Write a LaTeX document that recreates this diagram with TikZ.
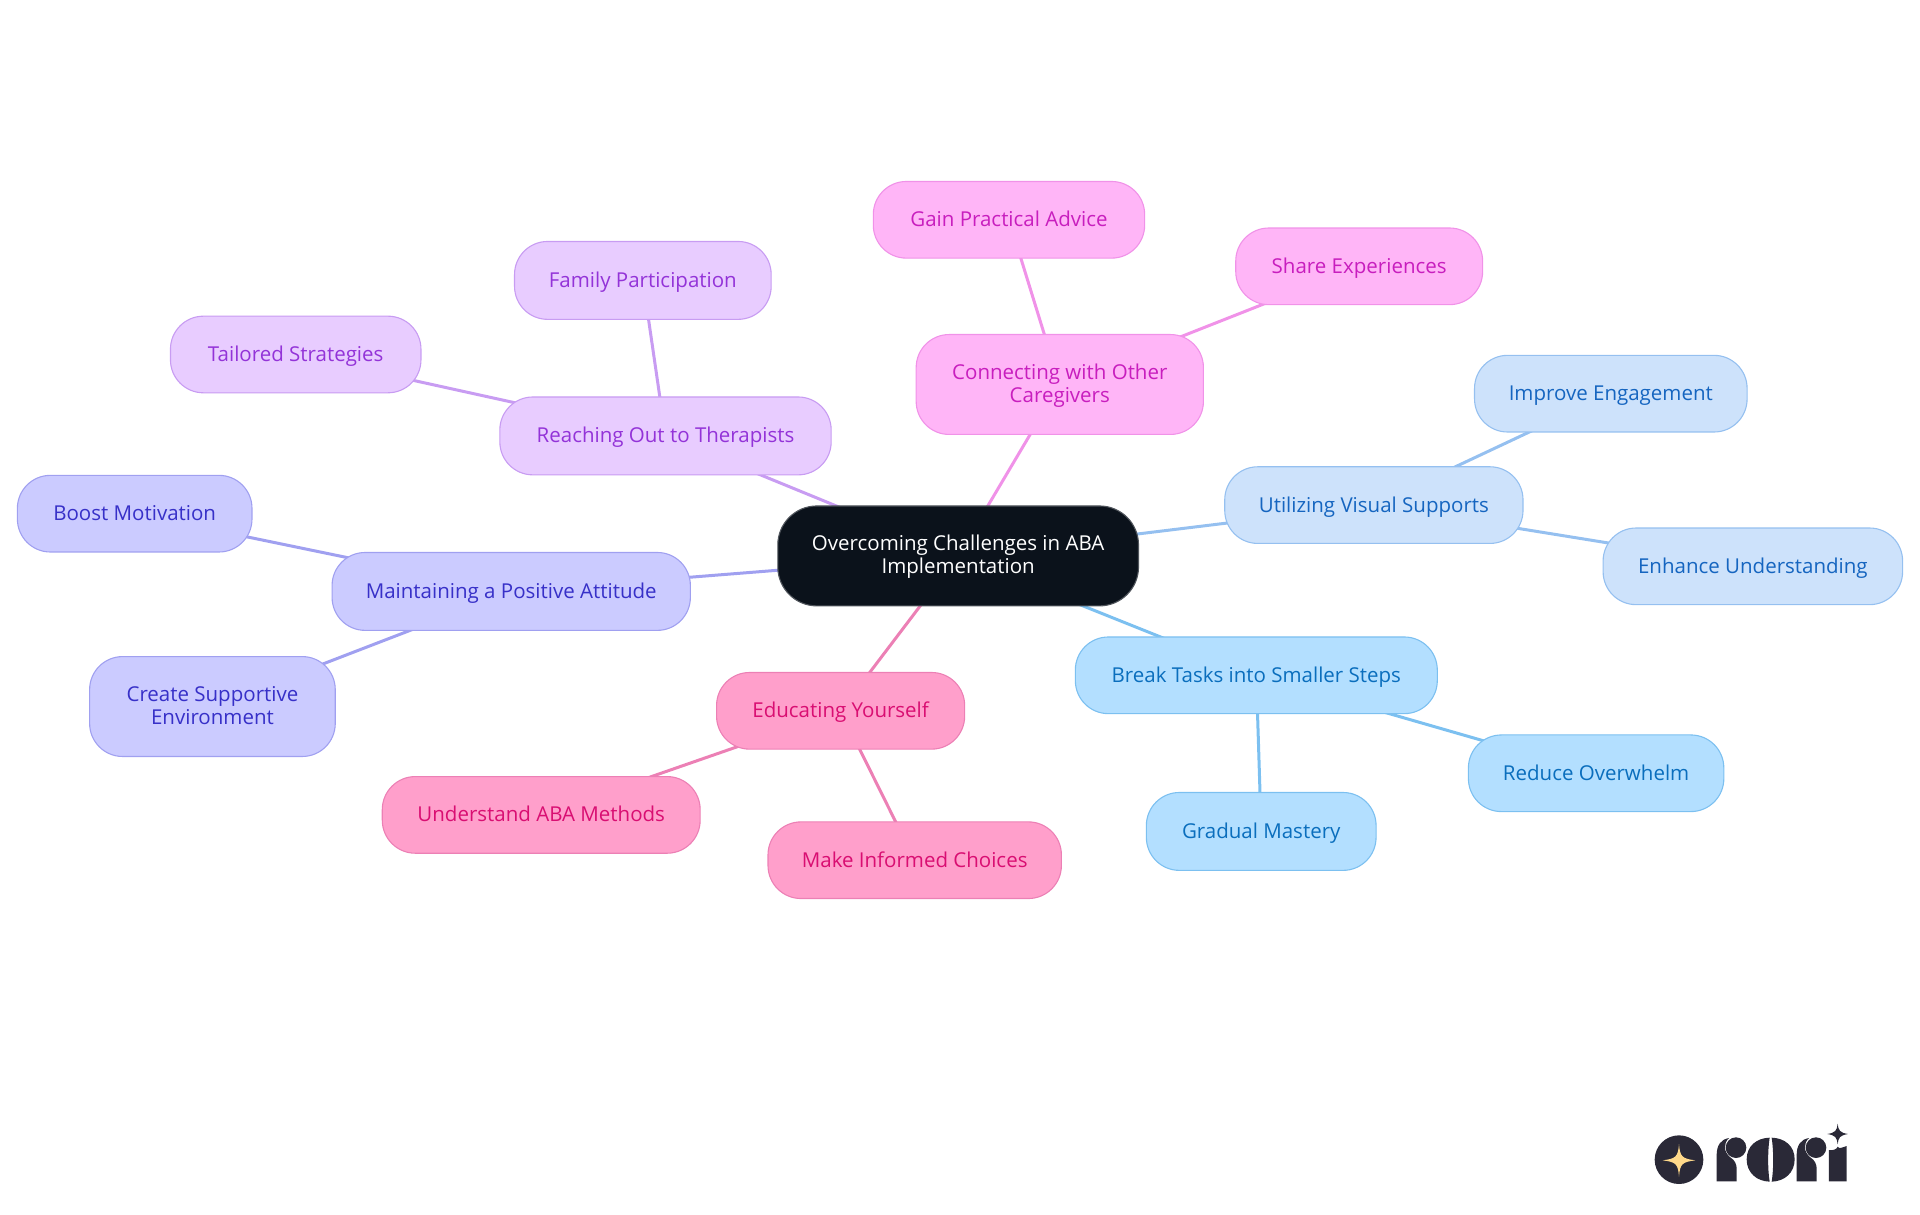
\documentclass[tikz,border=0pt]{standalone}
\usepackage{fontspec}
\setmainfont{Open Sans}
\usetikzlibrary{backgrounds}
\definecolor{logoink}{HTML}{2A2937}
\definecolor{logostar}{HTML}{FFD98A}
\tikzset{
  box/.style={draw,rounded corners=33pt,align=center,inner sep=0pt,line width=1.1pt,text height=19.5pt,text depth=5.5pt,font=\fontsize{20.5}{23}\selectfont},
  twol/.style={text height=37pt,text depth=1pt},
  rootbox/.style={box,rounded corners=39pt,fill=HTMLroot,draw=HTMLrootd,text=white},
  bl/.style={box,fill=cbl,draw=sbl,text=tbl},
  vs/.style={box,fill=cvs,draw=svs,text=tvs},
  mg/.style={box,fill=cmg,draw=smg,text=tmg},
  pu/.style={box,fill=cpu,draw=spu,text=tpu},
  ind/.style={box,fill=cin,draw=sin,text=tin},
  pk/.style={box,fill=cpk,draw=spk,text=tpk},
  link/.style={line width=3pt},
}
\definecolor{HTMLroot}{HTML}{0B121B}\definecolor{HTMLrootd}{HTML}{50555C}
\definecolor{cbl}{HTML}{B3DFFF}\definecolor{sbl}{HTML}{7CC0F0}\definecolor{tbl}{HTML}{0A6EBD}
\definecolor{cvs}{HTML}{CDE2FB}\definecolor{svs}{HTML}{95C0F0}\definecolor{tvs}{HTML}{1565C0}
\definecolor{cmg}{HTML}{FFB5F7}\definecolor{smg}{HTML}{F092E8}\definecolor{tmg}{HTML}{C81EBE}
\definecolor{cpu}{HTML}{E8CCFF}\definecolor{spu}{HTML}{C89CF2}\definecolor{tpu}{HTML}{9333D8}
\definecolor{cin}{HTML}{CBCBFF}\definecolor{sin}{HTML}{A0A0F0}\definecolor{tin}{HTML}{3730C8}
\definecolor{cpk}{HTML}{FF9FCB}\definecolor{spk}{HTML}{EC80B5}\definecolor{tpk}{HTML}{D90E72}
% name, x0,x1,y0,y1 (in the 1568-wide view), style, text
\newcommand{\mnode}[7]{%
  \pgfmathsetmacro{\ncx}{(#2+#3)/2*1.22449}%
  \pgfmathsetmacro{\ncy}{(#4+#5)/2*1.22449}%
  \pgfmathsetmacro{\nwd}{(#3-#2)*1.22449-0.5}%
  \pgfmathsetmacro{\nht}{(#5-#4)*1.22449-0.5}%
  \node[#6,minimum width=\nwd pt,minimum height=\nht pt] (#1) at (\ncx,\ncy) {#7};}
\begin{document}
\begin{tikzpicture}[x=1pt,y=-1pt]
\useasboundingbox (0,0) rectangle (1920,1215);
\mnode{root}{635}{930}{413}{495}{rootbox,twol}{Overcoming Challenges in ABA\\Implementation}
\mnode{gain}{713}{935}{148}{211}{mg}{Gain Practical Advice}
\mnode{share}{1009}{1211}{186}{249}{mg}{Share Experiences}
\mnode{conn}{748}{983}{273}{355}{mg,twol}{Connecting with Other\\Caregivers}
\mnode{impr}{1204}{1427}{290}{353}{vs}{Improve Engagement}
\mnode{util}{1000}{1244}{381}{444}{vs}{Utilizing Visual Supports}
\mnode{enh}{1309}{1554}{431}{494}{vs}{Enhance Understanding}
\mnode{brk}{878}{1174}{520}{583}{bl}{Break Tasks into Smaller Steps}
\mnode{red}{1199}{1408}{600}{663}{bl}{Reduce Overwhelm}
\mnode{grad}{936}{1124}{647}{711}{bl}{Gradual Mastery}
\mnode{edu}{585}{788}{549}{612}{pk}{Educating Yourself}
\mnode{und}{312}{572}{634}{697}{pk}{Understand ABA Methods}
\mnode{make}{627}{867}{671}{734}{pk}{Make Informed Choices}
\mnode{main}{271}{564}{451}{515}{ind}{Maintaining a Positive Attitude}
\mnode{boost}{14}{206}{388}{451}{ind}{Boost Motivation}
\mnode{crea}{73}{274}{536}{618}{ind,twol}{Create Supportive\\Environment}
\mnode{reach}{408}{679}{324}{388}{pu}{Reaching Out to Therapists}
\mnode{fam}{420}{630}{197}{261}{pu}{Family Participation}
\mnode{tail}{139}{344}{258}{321}{pu}{Tailored Strategies}
\begin{scope}[on background layer]
\draw[link,sbl] (root.center)--(brk.center) (brk.center)--(red.center) (brk.center)--(grad.center);
\draw[link,svs] (root.center)--(util.center) (util.center)--(impr.center) (util.center)--(enh.center);
\draw[link,smg] (root.center)--(conn.center) (conn.center)--(gain.center) (conn.center)--(share.center);
\draw[link,spu] (root.center)--(reach.center) (reach.center)--(fam.center) (reach.center)--(tail.center);
\draw[link,sin] (root.center)--(main.center) (main.center)--(boost.center) (main.center)--(crea.center);
\draw[link,spk] (root.center)--(edu.center) (edu.center)--(und.center) (edu.center)--(make.center);
\end{scope}
% logo, coordinates in the 3x zoom of the corner
\begin{scope}[shift={(1620,1100)},x=0.3333pt,y=-0.3333pt]
\fill[logoink] (177,179) circle[radius=73];
\fill[logostar] (177,132) .. controls (180,170) and (186,176) .. (226,181) .. controls (186,186) and (180,192) .. (177,230) .. controls (174,192) and (168,186) .. (128,181) .. controls (168,176) and (174,170) .. (177,132) -- cycle;
\foreach \dx in {0,240}{
  \fill[logoink] (290+\dx,244) -- (290+\dx,165) .. controls (290+\dx,135) and (303+\dx,118) .. (327+\dx,114) .. controls (310+\dx,130) and (310+\dx,155) .. (331+\dx,172) .. controls (345+\dx,180) and (350+\dx,195) .. (350+\dx,205) -- (350+\dx,244) -- cycle;
  \fill[logoink] (348+\dx,143) circle[radius=31];
}
\fill[logoink] (380,178) .. controls (380,138) and (410,114) .. (449,113) .. controls (443,150) and (443,210) .. (449,245) .. controls (410,244) and (380,218) .. (380,178) -- cycle;
\fill[logoink] (524,178) .. controls (524,138) and (494,114) .. (455,113) .. controls (461,150) and (461,210) .. (455,245) .. controls (494,244) and (524,218) .. (524,178) -- cycle;
\fill[logoink] (627,244) -- (627,150) .. controls (640,152) and (650,148) .. (653,140) .. controls (656,148) and (668,142) .. (680,138) -- (680,244) -- cycle;
\fill[logoink] (653,71) .. controls (655,92) and (660,98) .. (684,102) .. controls (660,106) and (655,112) .. (653,133) .. controls (651,112) and (646,106) .. (622,102) .. controls (646,98) and (651,92) .. (653,71) -- cycle;
\end{scope}
\end{tikzpicture}
\end{document}
